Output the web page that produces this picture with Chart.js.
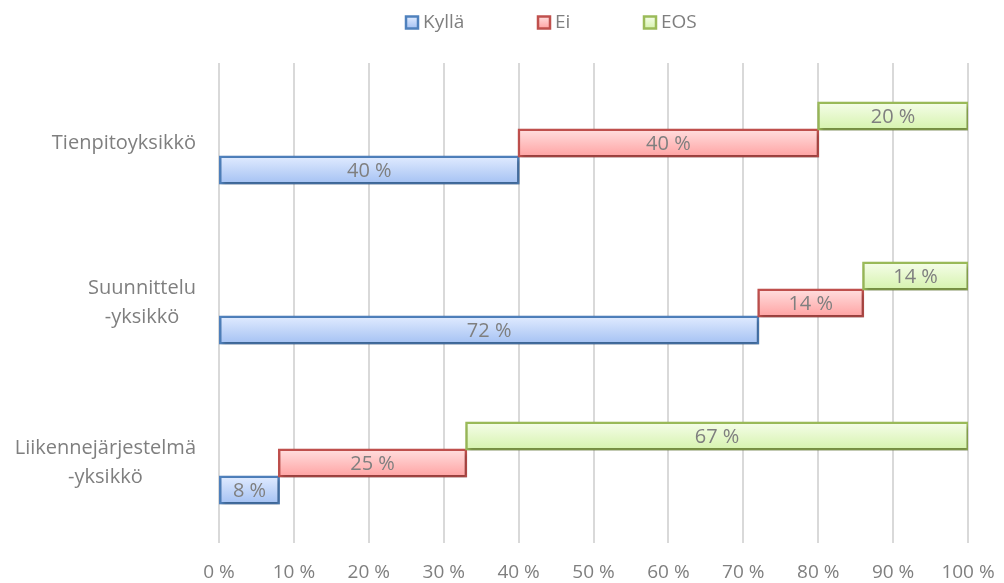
<!DOCTYPE html>
<html>
<head>
<meta charset="utf-8">
<script src="https://cdn.jsdelivr.net/npm/chart.js@4.4.1/dist/chart.umd.min.js"></script>
<style>
html,body{margin:0;padding:0;background:#fff;}
canvas{display:block;}
</style>
</head>
<body>
<canvas id="c" width="1004" height="583"></canvas>
<script>
// ---- data ----
const categories = [['Tienpitoyksikkö'], ['Suunnittelu', '-yksikkö'], ['Liikennejärjestelmä', '-yksikkö']];
const seriesNames = ['Kyllä', 'Ei', 'EOS'];
const kylla = [40, 72, 8];
const ei = [40, 14, 25];
const eos = [20, 14, 67];
const xTicks = [0, 10, 20, 30, 40, 50, 60, 70, 80, 90, 100];

// floating ranges built from the values
const kyllaRange = kylla.map(v => [0, v]);
const eiRange = ei.map((v, i) => [kylla[i], kylla[i] + v]);
const eosRange = eos.map((v, i) => [kylla[i] + ei[i], kylla[i] + ei[i] + v]);

const FONT = '"Open Sans", "Noto Sans", sans-serif';
const TEXT = '#7f7f7f';
const CAT_PCT = 0.506;

const styles = {
  'Kyllä': { border: '#4f81bd', top: '#e0ebff', bottom: '#a5c2f3', solid: '#c4d8fa' },
  'Ei':    { border: '#c0504d', top: '#ffdede', bottom: '#ffa3a3', solid: '#ffc4c4' },
  'EOS':   { border: '#9bbb59', top: '#f5fde9', bottom: '#d6f3ae', solid: '#e6f8cc' }
};

function gradientFill(name) {
  const st = styles[name];
  return function (c) {
    const chart = c.chart;
    const ys = chart.scales && chart.scales.y;
    if (!ys || c.dataIndex == null || !chart.chartArea) return st.solid;
    const n = categories.length;
    const band = (ys.bottom - ys.top) / n;
    const barH = band * CAT_PCT / 3;
    const center = ys.getPixelForValue(c.dataIndex);
    const top = center - 1.5 * barH + c.datasetIndex * barH;
    const g = chart.ctx.createLinearGradient(0, top, 0, top + barH);
    g.addColorStop(0, st.top);
    g.addColorStop(1, st.bottom);
    return g;
  };
}

function ds(name, data) {
  return {
    label: name,
    data: data,
    backgroundColor: gradientFill(name),
    borderColor: styles[name].border,
    borderWidth: 2.5,
    borderSkipped: false,
    inflateAmount: 1,
    barPercentage: 1,
    categoryPercentage: CAT_PCT
  };
}

// custom plugins: shadow, labels in bars, category labels, legend
const shadowPlugin = {
  id: 'shadow',
  beforeDatasetsDraw(chart) {
    const ctx = chart.ctx;
    ctx.save();
    ctx.shadowColor = 'rgba(0,0,0,0.28)';
    ctx.shadowBlur = 4;
    ctx.shadowOffsetX = 1.5;
    ctx.shadowOffsetY = 2.5;
  },
  afterDatasetsDraw(chart) {
    chart.ctx.restore();
  }
};

const barLabels = {
  id: 'barLabels',
  afterDatasetsDraw(chart) {
    const ctx = chart.ctx;
    ctx.save();
    ctx.font = '20px ' + FONT;
    ctx.fillStyle = TEXT;
    ctx.textAlign = 'center';
    ctx.textBaseline = 'middle';
    chart.data.datasets.forEach((d, di) => {
      const meta = chart.getDatasetMeta(di);
      meta.data.forEach((el, i) => {
        const r = d.data[i];
        const v = r[1] - r[0];
        const cx = (el.x + el.base) / 2;
        ctx.fillText(v + ' %', cx, el.y + 1);
      });
    });
    ctx.restore();
  }
};

const catLabels = {
  id: 'catLabels',
  afterDraw(chart) {
    const ctx = chart.ctx;
    const ys = chart.scales.y;
    ctx.save();
    ctx.font = '20px ' + FONT;
    ctx.fillStyle = TEXT;
    ctx.textAlign = 'center';
    ctx.textBaseline = 'middle';
    const right = 196, lh = 29;
    categories.forEach((lines, i) => {
      const w = Math.max(...lines.map(l => ctx.measureText(l).width));
      const cx = right - w / 2;
      const cy = ys.getPixelForValue(i);
      const y0 = cy - (lines.length - 1) * lh / 2;
      lines.forEach((l, k) => ctx.fillText(l, cx, y0 + k * lh));
    });
    ctx.restore();
  }
};

const customLegend = {
  id: 'customLegend',
  afterDraw(chart) {
    const ctx = chart.ctx;
    ctx.save();
    ctx.font = '19px ' + FONT;
    ctx.textBaseline = 'middle';
    ctx.textAlign = 'left';
    const starts = [405, 537, 643];
    const cy = 22.5, box = 12;
    seriesNames.forEach((name, i) => {
      const st = styles[name];
      const x = starts[i] + 1;
      const g = ctx.createLinearGradient(0, cy - box / 2, 0, cy + box / 2);
      g.addColorStop(0, st.top);
      g.addColorStop(1, st.bottom);
      ctx.fillStyle = g;
      ctx.fillRect(x, cy - box / 2, box, box);
      ctx.strokeStyle = st.border;
      ctx.lineWidth = 2.5;
      ctx.strokeRect(x, cy - box / 2, box, box);
      ctx.fillStyle = TEXT;
      ctx.fillText(name, starts[i] + 18, cy);
    });
    ctx.restore();
  }
};

new Chart(document.getElementById('c'), {
  type: 'bar',
  data: {
    labels: categories,
    datasets: [ds('EOS', eosRange), ds('Ei', eiRange), ds('Kyllä', kyllaRange)]
  },
  options: {
    indexAxis: 'y',
    responsive: false,
    animation: false,
    layout: { padding: { top: 63, right: 36, left: 0, bottom: 0 } },
    plugins: {
      legend: { display: false },
      tooltip: { enabled: false }
    },
    scales: {
      y: {
        type: 'category',
        grid: { display: false },
        border: { display: false },
        ticks: { display: false },
        afterFit(s) { s.width = 219; }
      },
      x: {
        type: 'linear',
        min: 0,
        max: 100,
        afterBuildTicks(s) { s.ticks = xTicks.map(v => ({ value: v })); },
        ticks: {
          callback: v => v + ' %',
          color: TEXT,
          font: { family: FONT, size: 19, lineHeight: 2.4 },
          padding: 7,
          maxRotation: 0
        },
        grid: { color: '#d9d9d9', lineWidth: 2, drawTicks: false },
        border: { display: false },
        afterFit(s) { s.height = 40; }
      }
    }
  },
  plugins: [shadowPlugin, barLabels, catLabels, customLegend]
});
</script>
</body>
</html>
